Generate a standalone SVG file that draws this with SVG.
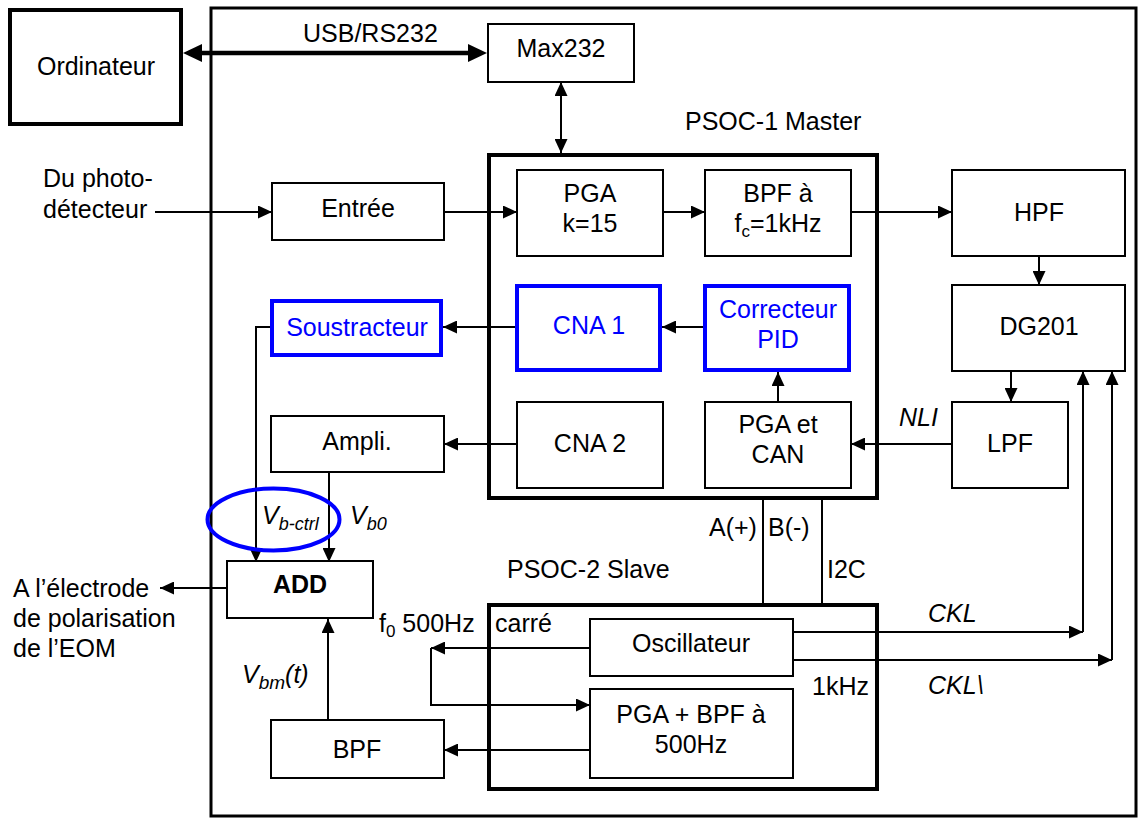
<svg xmlns="http://www.w3.org/2000/svg" width="1139" height="818" viewBox="0 0 1139 818">
<defs>
<style>
text{font-family:"Liberation Sans",Arial,sans-serif;font-size:25px;fill:#000}
.c{text-anchor:middle}
.i{font-style:italic}
.b{fill:#0000ff}
.box{fill:#fff;stroke:#000;stroke-width:2}
.bbox{fill:#fff;stroke:#0000ff;stroke-width:4}
.frame{fill:none;stroke:#000;stroke-width:4}
.ln{fill:none;stroke:#000;stroke-width:2}
.arr{marker-end:url(#ah)}
</style>
<marker id="ah" markerUnits="userSpaceOnUse" markerWidth="14" markerHeight="13" refX="14" refY="6.5" orient="auto-start-reverse"><path d="M0,0 L14,6.5 L0,13 z" fill="#000"/></marker>
<marker id="big" markerUnits="userSpaceOnUse" markerWidth="19" markerHeight="18" refX="9" refY="9" orient="auto-start-reverse"><path d="M0,0 L19,9 L0,18 z" fill="#000"/></marker>
</defs>
<rect width="1139" height="818" fill="#fff"/>
<g id="outer-frame"><rect x="211" y="8" width="925" height="808" fill="none" stroke="#000" stroke-width="3"/></g>
<g id="psoc1"><rect class="frame" x="489" y="155" width="388" height="343"/><text x="685" y="130">PSOC-1 Master</text></g>
<g id="psoc2"><rect class="frame" x="489" y="605" width="388" height="184"/><text x="507" y="578">PSOC-2 Slave</text></g>

<g id="connectors">
<line x1="193" y1="53" x2="477" y2="53" stroke="#000" stroke-width="4.5" marker-start="url(#big)" marker-end="url(#big)"/>
<line class="ln" x1="561" y1="82" x2="561" y2="153" marker-start="url(#ah)" marker-end="url(#ah)"/>
<line class="ln arr" x1="155" y1="212" x2="272" y2="212"/>
<line class="ln arr" x1="444" y1="212" x2="517" y2="212"/>
<line class="ln arr" x1="663" y1="212" x2="705" y2="212"/>
<line class="ln arr" x1="851" y1="212" x2="952" y2="212"/>
<line class="ln arr" x1="1039" y1="256" x2="1039" y2="285"/>
<line class="ln arr" x1="1011" y1="371" x2="1011" y2="402"/>
<line class="ln arr" x1="952" y1="444" x2="851" y2="444"/>
<line class="ln arr" x1="778" y1="402" x2="778" y2="372"/>
<line class="ln arr" x1="703" y1="327" x2="662" y2="327"/>
<line class="ln arr" x1="515" y1="327" x2="443" y2="327"/>
<line class="ln arr" x1="517" y1="444" x2="444" y2="444"/>
<polyline class="ln arr" points="270,327 256,327 256,562"/>
<line class="ln arr" x1="329" y1="472" x2="329" y2="562"/>
<line class="ln arr" x1="227" y1="588" x2="160" y2="588"/>
<line class="ln arr" x1="328" y1="720" x2="328" y2="619"/>
<line class="ln arr" x1="590" y1="750" x2="444" y2="750"/>
<line class="ln arr" x1="590" y1="648" x2="431" y2="648"/>
<polyline class="ln arr" points="431,648 431,705 590,705"/>
<line class="ln" x1="763" y1="500" x2="763" y2="603"/>
<line class="ln" x1="822" y1="500" x2="822" y2="603"/>
<line class="ln arr" x1="793" y1="632" x2="1083" y2="632"/>
<line class="ln arr" x1="1083" y1="632" x2="1083" y2="371"/>
<line class="ln arr" x1="793" y1="660" x2="1112" y2="660"/>
<line class="ln arr" x1="1112" y1="660" x2="1112" y2="371"/>
</g>

<g id="ordinateur"><rect x="10" y="10" width="171" height="114" fill="#fff" stroke="#000" stroke-width="4"/><text class="c" x="96" y="75">Ordinateur</text></g>
<g id="max232"><rect class="box" x="488" y="24" width="146" height="58"/><text class="c" x="561" y="57">Max232</text></g>
<g id="source"><text x="43" y="187">Du photo-</text><text x="43" y="218">détecteur</text></g>
<g id="entree"><rect class="box" x="272" y="183" width="172" height="57"/><text class="c" x="358" y="217">Entrée</text></g>
<g id="pga1"><rect class="box" x="517" y="170" width="146" height="86"/><text class="c" x="590" y="202">PGA</text><text class="c" x="590" y="232">k=15</text></g>
<g id="bpf1"><rect class="box" x="705" y="170" width="146" height="86"/><text class="c" x="778" y="202">BPF à</text><text class="c" x="778" y="232">f<tspan font-size="17" dy="5">c</tspan><tspan dy="-5">=1kHz</tspan></text></g>
<g id="hpf"><rect class="box" x="952" y="170" width="173" height="86"/><text class="c" x="1039" y="221">HPF</text></g>
<g id="dg201"><rect class="box" x="952" y="285" width="173" height="86"/><text class="c" x="1039" y="335">DG201</text></g>
<g id="lpf"><rect class="box" x="952" y="402" width="116" height="86"/><text class="c" x="1010" y="452">LPF</text></g>
<g id="pga-can"><rect class="box" x="705" y="402" width="146" height="86"/><text class="c" x="778" y="433">PGA et</text><text class="c" x="778" y="463">CAN</text></g>
<g id="pid"><rect class="bbox" x="705" y="286" width="144" height="84"/><text class="c b" x="778" y="318">Correcteur</text><text class="c b" x="778" y="348">PID</text></g>
<g id="cna1"><rect class="bbox" x="517" y="286" width="143" height="84"/><text class="c b" x="589" y="334">CNA 1</text></g>
<g id="cna2"><rect class="box" x="517" y="402" width="146" height="86"/><text class="c" x="590" y="452">CNA 2</text></g>
<g id="soustracteur"><rect class="bbox" x="272" y="301" width="169" height="54"/><text class="c b" x="357" y="336">Soustracteur</text></g>
<g id="ampli"><rect class="box" x="271" y="416" width="173" height="56"/><text class="c" x="357" y="450">Ampli.</text></g>
<g id="add"><rect class="box" x="227" y="561" width="146" height="57"/><text class="c" x="300" y="593" font-weight="bold">ADD</text></g>
<g id="bpf2"><rect class="box" x="271" y="720" width="173" height="58"/><text class="c" x="357" y="758">BPF</text></g>
<g id="oscillateur"><rect class="box" x="590" y="619" width="203" height="57"/><text class="c" x="691" y="652">Oscillateur</text></g>
<g id="pga-bpf500"><rect class="box" x="590" y="689" width="203" height="89"/><text class="c" x="691" y="723">PGA + BPF à</text><text class="c" x="691" y="753">500Hz</text></g>
<g id="output"><text x="13" y="597">A l’électrode</text><text x="13" y="627">de polarisation</text><text x="13" y="657">de l’EOM</text></g>

<g id="labels">
<text x="303" y="42">USB/RS232</text>
<ellipse cx="273.5" cy="519.5" rx="66" ry="31" fill="none" stroke="#0000ff" stroke-width="4"/>
<text class="i" x="262" y="524">V<tspan font-size="18" dy="6">b-ctrl</tspan></text>
<text class="i" x="350" y="524">V<tspan font-size="18" dy="6">b0</tspan></text>
<text class="i" x="242" y="683">V<tspan font-size="19" dy="6">bm</tspan><tspan dy="-6">(t)</tspan></text>
<text class="i" x="899" y="426">NLI</text>
<text x="709" y="536">A(+)</text>
<text x="768" y="536">B(-)</text>
<text x="827" y="578">I2C</text>
<text x="379" y="632">f<tspan font-size="17" dy="5">0</tspan><tspan dy="-5"> 500Hz</tspan></text>
<text x="495" y="632">carré</text>
<text x="812" y="695">1kHz</text>
<text class="i" x="928" y="622">CKL</text>
<text class="i" x="928" y="694">CKL\</text>
</g>
</svg>
